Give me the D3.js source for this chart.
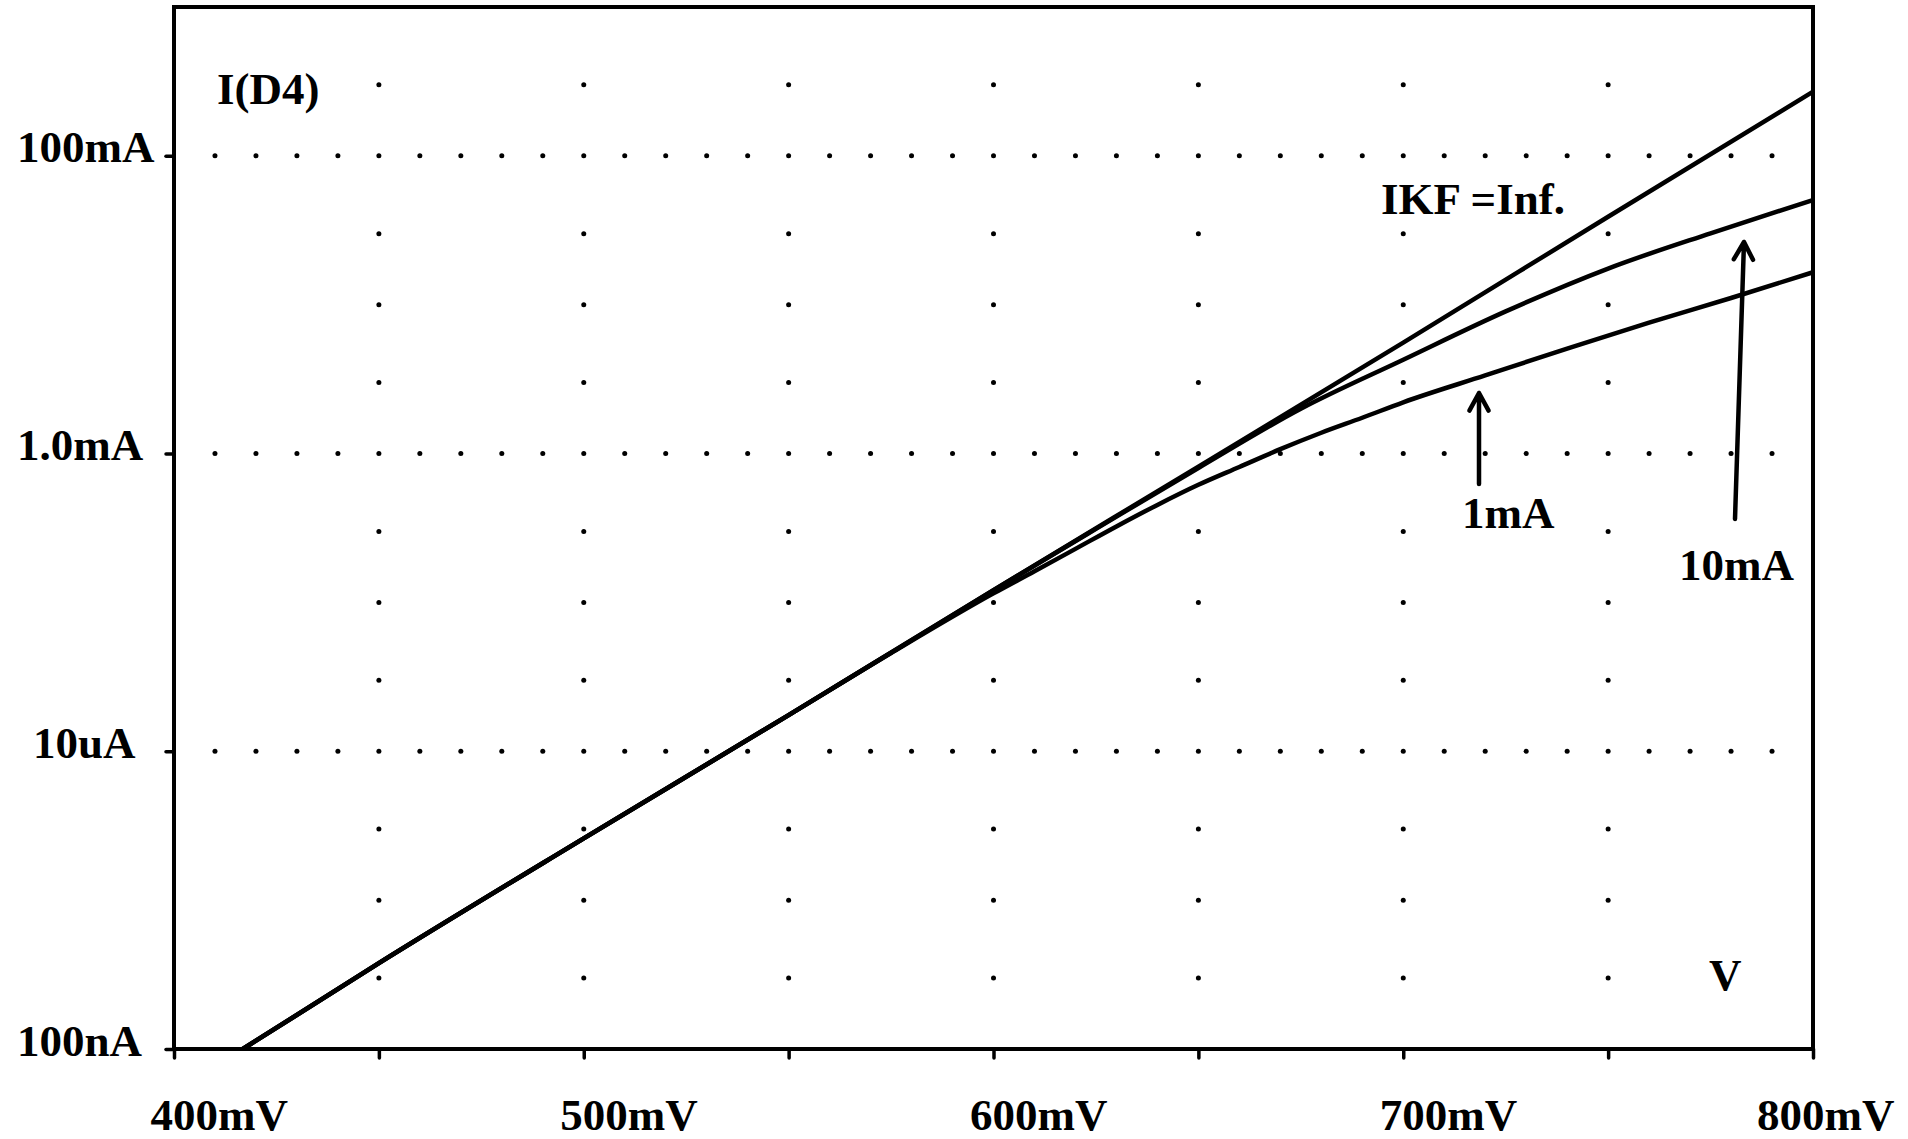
<!DOCTYPE html>
<html lang="en">
<head>
  <meta charset="UTF-8">
  <title>I(D4) vs V</title>
  <script src="https://d3js.org/d3.v7.min.js"></script>
  <style>
    body { margin: 0; background: #fff; }
    text { font-family: "Liberation Serif", "Times New Roman", serif; font-weight: bold; font-size: 45px; fill: #000; }
  </style>
</head>
<body>
  <div id="chart"></div>

  <script>
    // diode current (mV, A)
    const voltsInf = [416.8, 450, 500, 550, 600, 650, 700, 750, 800];
    const ampsInf  = [1.0e-7, 3.77e-7, 2.60e-6, 1.75e-5, 1.21e-4, 8.17e-4, 5.56e-3, 0.0390, 0.270];

    const volts10 = [416.8, 450, 500, 550, 600, 625, 650, 675, 700, 725, 750, 775, 800];
    const amps10  = [1.0e-7, 3.77e-7, 2.60e-6, 1.75e-5, 1.21e-4, 3.12e-4, 8.0e-4, 2.0e-3, 4.27e-3, 9.02e-3, 0.0175, 0.0302, 0.0505];

    const volts1 = [416.8, 450, 500, 550, 575, 600, 610, 620, 630, 640, 650, 660, 670, 680, 690, 700, 720, 740, 760, 780, 800];
    const amps1  = [1.0e-7, 3.77e-7, 2.60e-6, 1.75e-5, 4.57e-5, 1.15e-4, 1.62e-4, 2.29e-4, 3.24e-4, 4.52e-4, 6.17e-4,
                    8.13e-4, 1.07e-3, 1.38e-3, 1.74e-3, 2.21e-3, 3.35e-3, 5.07e-3, 7.59e-3, 0.01109, 0.01652];

    const xTickVals   = [400, 450, 500, 550, 600, 650, 700, 750, 800];
    const xTickLabels = ["400mV", "", "500mV", "", "600mV", "", "700mV", "", "800mV"];
    const yTickVals   = [1e-7, 1e-5, 1e-3, 1e-1];
    const yTickLabels = ["100nA", "10uA", "1.0mA", "100mA"];
    const yMinorRows  = [3e-7, 1e-6, 3e-6, 3e-5, 1e-4, 3e-4, 3e-3, 1e-2, 3e-2, 3e-1];

    const ancho = 1908, alto = 1139;
    const mIzq = 174, mDer = 1813, mSup = 7, mInf = 1049;

    const svg = d3.select("#chart").append("svg")
      .attr("width", ancho)
      .attr("height", alto);

    const x = d3.scaleLinear().domain([400, 800]).range([mIzq, mDer]);
    const y = d3.scaleLog().domain([1e-7, 1]).range([mInf, mSup]);

    // dotted grid
    const dots = [];
    yTickVals.filter(v => v > 1e-7).forEach(v => {
      for (let mv = 410; mv < 800; mv += 10) dots.push([mv, v]);
    });
    yMinorRows.forEach(v => {
      xTickVals.filter(mv => mv > 400 && mv < 800).forEach(mv => dots.push([mv, v]));
    });
    svg.append("g").selectAll("circle")
      .data(dots)
      .enter()
      .append("circle")
      .attr("cx", d => x(d[0]))
      .attr("cy", d => y(d[1]))
      .attr("r", 2.5)
      .attr("fill", "#000");

    // axes
    const ejeX = d3.axisBottom(x)
      .tickValues(xTickVals)
      .tickSize(9)
      .tickSizeOuter(0)
      .tickFormat((d, i) => xTickLabels[i]);
    const gx = svg.append("g")
      .attr("transform", `translate(0, ${mInf})`)
      .call(ejeX);
    gx.select(".domain").remove();
    gx.attr("font-family", null).attr("font-size", null);
    gx.selectAll("line").attr("stroke-width", 3.5).attr("stroke-linecap", "round");
    gx.selectAll("text")
      .attr("dy", null)
      .attr("y", 81)
      .attr("x", d => d === 800 ? 81 : -24)
      .attr("text-anchor", d => d === 800 ? "end" : "start");

    const ejeY = d3.axisLeft(y)
      .tickValues(yTickVals)
      .tickSize(8)
      .tickSizeOuter(0)
      .tickFormat((d, i) => yTickLabels[i]);
    const gy = svg.append("g")
      .attr("transform", `translate(${mIzq}, 0)`)
      .call(ejeY);
    gy.select(".domain").remove();
    gy.attr("font-family", null).attr("font-size", null);
    gy.selectAll("line").attr("stroke-width", 3.5).attr("stroke-linecap", "round");
    gy.selectAll("text")
      .attr("dy", null)
      .attr("y", 6)
      .attr("text-anchor", "start")
      .attr("x", (d, i) => 17 - mIzq + (5 - yTickLabels[i].length) * 16);

    // curves
    const series = [
      { volts: voltsInf, amps: ampsInf },
      { volts: volts10, amps: amps10 },
      { volts: volts1, amps: amps1 }
    ];
    const linea = d3.line()
      .x(d => x(d[0]))
      .y(d => y(d[1]))
      .curve(d3.curveMonotoneX);
    svg.append("g").selectAll("path")
      .data(series)
      .enter()
      .append("path")
      .attr("d", s => linea(s.volts.map((v, i) => [v, s.amps[i]])))
      .attr("fill", "none")
      .attr("stroke", "#000")
      .attr("stroke-width", 4.5)
      .attr("stroke-linejoin", "round");

    // plot frame
    svg.append("rect")
      .attr("x", mIzq).attr("y", mSup)
      .attr("width", mDer - mIzq).attr("height", mInf - mSup)
      .attr("fill", "none")
      .attr("stroke", "#000")
      .attr("stroke-width", 4);

    // labels
    const notas = [
      { t: "I(D4)", x: 217, y: 104 },
      { t: "IKF =Inf.", x: 1381, y: 214 },
      { t: "1mA", x: 1462, y: 528 },
      { t: "10mA", x: 1679, y: 580 },
      { t: "V", x: 1709, y: 990 }
    ];
    svg.append("g").selectAll("text")
      .data(notas)
      .enter()
      .append("text")
      .attr("x", d => d.x)
      .attr("y", d => d.y)
      .style("white-space", "pre")
      .text(d => d.t);

    // arrows
    const flechas = [
      { from: [1479, 484], to: [1479, 393] },
      { from: [1735, 519], to: [1744, 242] }
    ];
    flechas.forEach(f => {
      const [x0, y0] = f.from, [x1, y1] = f.to;
      const ang = Math.atan2(y1 - y0, x1 - x0);
      const len = 20, spread = 0.5;
      const p1 = [x1 - len * Math.cos(ang - spread), y1 - len * Math.sin(ang - spread)];
      const p2 = [x1 - len * Math.cos(ang + spread), y1 - len * Math.sin(ang + spread)];
      svg.append("path")
        .attr("d", `M${x0},${y0}L${x1},${y1}M${p1[0]},${p1[1]}L${x1},${y1}L${p2[0]},${p2[1]}`)
        .attr("fill", "none")
        .attr("stroke", "#000")
        .attr("stroke-width", 4.5)
        .attr("stroke-linecap", "round")
        .attr("stroke-linejoin", "round");
    });
  </script>
</body>
</html>
